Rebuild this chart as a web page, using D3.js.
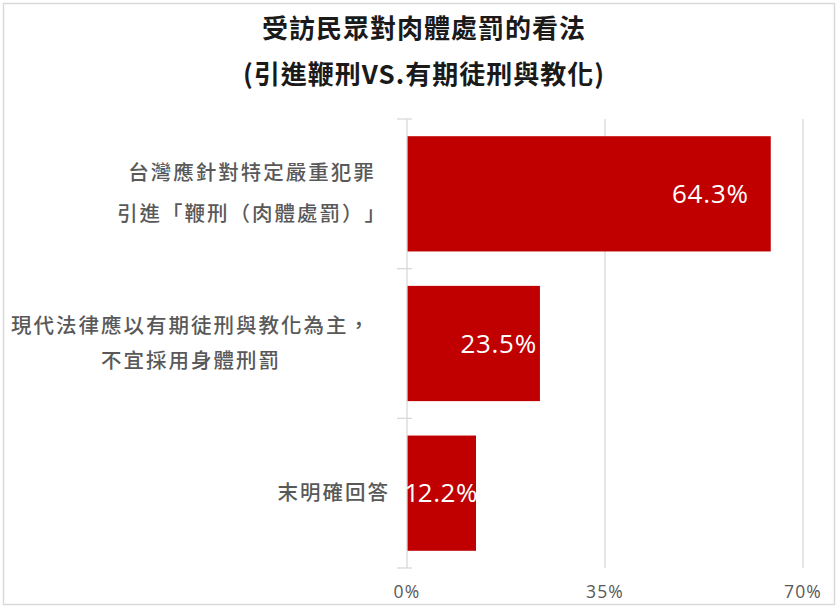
<!DOCTYPE html>
<html lang="zh-Hant"><head><meta charset="utf-8">
<script src="https://cdn.jsdelivr.net/npm/d3@7"></script>
<style>body{margin:0;background:#fff}svg{display:block}text{text-spacing-trim:space-all}</style>
</head><body>
<svg id="c" width="840" height="612"></svg>
<script>
const titleLines = ["受訪民眾對肉體處罰的看法", "(引進鞭刑VS.有期徒刑與教化)"];
const categories = [
  ["台灣應針對特定嚴重犯罪", "引進「鞭刑（肉體處罰）」"],
  ["現代法律應以有期徒刑與教化為主，", "不宜採用身體刑罰"],
  ["末明確回答"]
];
const values = [64.3, 23.5, 12.2];
const tickValues = [0, 35, 70];

const svg = d3.select("#c");
const font = "'Noto Sans CJK TC','Noto Sans',sans-serif";
const numFont = "'Open Sans','Noto Sans',sans-serif";

svg.append("rect").attr("x", 3.5).attr("y", 3.5).attr("width", 831).attr("height", 601)
  .attr("fill", "#fff").attr("stroke", "#d9d9d9").attr("stroke-width", 1.5);

const x = d3.scaleLinear().domain([0, 70]).range([407, 803]);
const y = d3.scaleBand().domain(d3.range(categories.length)).range([119, 568]).paddingInner(0.23).paddingOuter(0.115);

// title
svg.append("g").selectAll("text").data(titleLines).join("text")
  .attr("x", 424).attr("y", (d, i) => 38 + i * 46)
  .attr("text-anchor", "middle").attr("font-family", font).attr("font-weight", "bold")
  .attr("font-size", 26).attr("letter-spacing", 1).attr("fill", "#1a1a1a").text(d => d);

// gridlines
svg.append("g").selectAll("line").data(tickValues.filter(v => v > 0)).join("line")
  .attr("x1", d => x(d)).attr("x2", d => x(d)).attr("y1", 119).attr("y2", 568)
  .attr("stroke", "#d9d9d9").attr("stroke-width", 1.3);

// bars
svg.append("g").selectAll("rect").data(values).join("rect")
  .attr("x", x(0)).attr("y", (d, i) => y(i)).attr("width", d => x(d) - x(0))
  .attr("height", y.bandwidth()).attr("fill", "#c00000");

// y axis line + ticks
const bandEdges = d3.range(categories.length + 1).map(i => 119 + i * (449 / categories.length));
svg.append("line").attr("x1", x(0)).attr("x2", x(0)).attr("y1", 119).attr("y2", 568)
  .attr("stroke", "#d9d9d9").attr("stroke-width", 1.3);
svg.append("g").selectAll("line").data(bandEdges).join("line")
  .attr("x1", x(0) - 10).attr("x2", x(0) + 5).attr("y1", d => d).attr("y2", d => d)
  .attr("stroke", "#d9d9d9").attr("stroke-width", 1.3);

// x tick labels
svg.append("g").selectAll("text").data(tickValues).join("text")
  .attr("x", d => x(d)).attr("y", 598).attr("text-anchor", "middle")
  .attr("font-family", numFont).attr("font-size", 17.5).attr("letter-spacing", 1.2).attr("fill", "#595959")
  .text(d => d + "%");

// category labels
const labelRight = [387, 371, 390];
const lineH = [41, 35, 0];
categories.forEach((lines, i) => {
  const cy = y(i) + y.bandwidth() / 2;
  const g = svg.append("g");
  const texts = g.selectAll("text").data(lines).join("text")
    .attr("y", (d, j) => cy + (j - (lines.length - 1) / 2) * lineH[i] + 7)
    .attr("text-anchor", "middle").attr("font-family", font).attr("font-weight", 500)
    .attr("font-size", 20.5).attr("letter-spacing", 2).attr("fill", "#595959").text(d => d);
  let maxW = 0;
  texts.each(function() { maxW = Math.max(maxW, this.getComputedTextLength()); });
  texts.attr("x", labelRight[i] - maxW / 2);
});

// value labels (inside end, kept within the bar)
svg.append("g").selectAll("text").data(values).join("text")
  .attr("x", (d, i) => x(d) - (i === 0 ? 22 : 3))
  .attr("y", (d, i) => y(i) + y.bandwidth() / 2 + 9)
  .attr("text-anchor", "end").attr("font-family", numFont).attr("font-size", 26)
  .attr("letter-spacing", 0.8).style("font-variant-numeric", "proportional-nums")
  .attr("fill", "#fff").text(d => d.toFixed(1) + "%")
  .each(function(d) {
    const b = this.getBBox();
    if (b.x < x(0) - 1) d3.select(this).attr("x", +d3.select(this).attr("x") + (x(0) - 1 - b.x));
  });
</script>
</body></html>
